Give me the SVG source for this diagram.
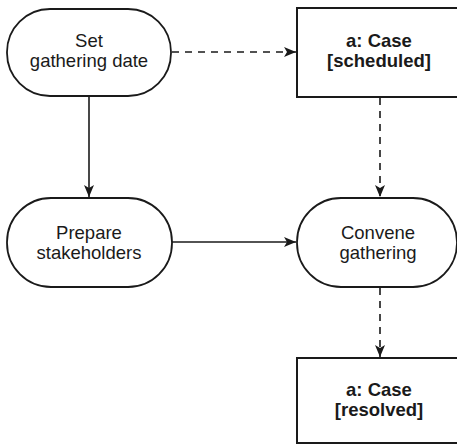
<svg xmlns="http://www.w3.org/2000/svg" width="457" height="445" viewBox="0 0 457 445">
  <style>
    .action { fill: #ffffff; stroke: #1a1a1a; stroke-width: 1.8; }
    .object { fill: #ffffff; stroke: #1a1a1a; stroke-width: 2; }
    .label { font-family: "Liberation Sans", Arial, sans-serif; font-size: 18.5px; fill: #1a1a1a; text-anchor: middle; }
    .bold { font-weight: bold; }
    .flow { fill: none; stroke: #1a1a1a; stroke-width: 1.6; }
    .dashed { stroke-dasharray: 7 6; }
  </style>
  <defs>
    <marker id="arrow" viewBox="0 0 12 10" refX="12" refY="5" markerWidth="12" markerHeight="10" markerUnits="userSpaceOnUse" orient="auto">
      <path d="M0,0 L12,5 L0,10 L3,5 Z" fill="#1a1a1a"/>
    </marker>
  </defs>

  <rect width="457" height="445" fill="#ffffff"/>

  <g id="connectors">
    <line class="flow dashed" x1="172" y1="52" x2="296" y2="52" marker-end="url(#arrow)"/>
    <line class="flow" x1="89" y1="97" x2="89" y2="197" marker-end="url(#arrow)"/>
    <line class="flow" x1="172" y1="242" x2="296" y2="242" marker-end="url(#arrow)"/>
    <line class="flow dashed" x1="380" y1="98" x2="380" y2="197" marker-end="url(#arrow)"/>
    <line class="flow dashed" x1="380" y1="288" x2="380" y2="357" marker-end="url(#arrow)"/>
  </g>

  <g id="set-gathering-date">
    <rect class="action" x="7" y="9" width="164" height="87" rx="43" ry="43"/>
    <text class="label" x="89" y="47">Set</text>
    <text class="label" x="89" y="67">gathering date</text>
  </g>

  <g id="case-scheduled">
    <rect class="object" x="297" y="8" width="164" height="89"/>
    <text class="label bold" x="379" y="47">a: Case</text>
    <text class="label bold" x="379" y="67">[scheduled]</text>
  </g>

  <g id="prepare-stakeholders">
    <rect class="action" x="7" y="198" width="165" height="89" rx="44" ry="44"/>
    <text class="label" x="89" y="239">Prepare</text>
    <text class="label" x="89" y="259">stakeholders</text>
  </g>

  <g id="convene-gathering">
    <rect class="action" x="297" y="198" width="160" height="89" rx="44" ry="44"/>
    <text class="label" x="378" y="239">Convene</text>
    <text class="label" x="378" y="259">gathering</text>
  </g>

  <g id="case-resolved">
    <rect class="object" x="297" y="358" width="164" height="85"/>
    <text class="label bold" x="379" y="396">a: Case</text>
    <text class="label bold" x="379" y="416">[resolved]</text>
  </g>
</svg>
